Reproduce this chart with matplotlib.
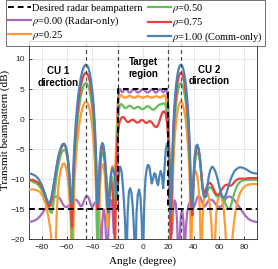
import numpy as np
import matplotlib
matplotlib.use("Agg")
import matplotlib.pyplot as plt

plt.rcParams['font.family'] = 'Liberation Serif'
plt.rcParams['mathtext.fontset'] = 'stix'

# angle grid (degree) shared by all curves
angles = np.arange(-90, 91)

# rho = 1.00 (comm-only)
beam_100 = [
    -9.1, -9.1, -9.1, -9.2, -9.3, -9.4, -9.6, -9.8, -10.1, -10.5,
    -10.9, -11.4, -12.0, -12.6, -13.3, -13.8, -14.0, -13.6, -12.7, -11.5,
    -10.3, -8.9, -7.6, -6.5, -5.6, -4.9, -4.3, -4.1, -4.1, -4.5,
    -5.3, -7.0, -9.4, -13.3, -14.0, -8.4, -3.9, -0.6, 1.95, 4.0,
    5.6, 6.9, 7.8, 8.5, 8.9, 9.05, 8.9, 8.5, 7.7, 6.5,
    4.9, 2.6, -0.7, -5.7, -14.1, -12.1, -6.85, -4.6, -3.95, -4.5,
    -6.2, -9.4, -14.3, -15.6, -11.6, -9.0, -8.1, -8.5, -10.1, -13.0,
    -11.5, -8.8, -7.9, -8.5, -10.5, -13.5, -17.5, -25.0, -15.5, -12.0,
    -11.5, -12.3, -14.5, -18.5, -25.0, -15.5, -12.5, -11.7, -12.8, -16.5,
    -25.0, -14.5, -10.0, -8.3, -7.6, -7.8, -9.2, -10.7, -10.0, -9.0,
    -9.2, -10.5, -11.0, -9.5, -8.6, -9.3, -11.5, -8.5, -5.2, -4.1,
    -4.6, -8.0, -16.0, -8.0, -1.25, 2.65, 5.25, 7.0, 8.2, 8.85,
    9.05, 8.85, 8.2, 7.15, 5.6, 3.35, 0.3, -4.3, -12.0, -14.5,
    -9.3, -5.9, -4.5, -4.25, -4.85, -6.35, -8.9, -11.5, -12.8, -13.0,
    -12.85, -11.0, -9.6, -8.6, -8.1, -7.9, -8.2, -8.6, -9.2, -10.0,
    -10.9, -11.8, -12.5, -13.0, -13.1, -12.8, -12.3, -11.6, -10.9, -10.2,
    -9.65, -9.2, -8.75, -8.5, -8.3, -8.15, -8.05, -8.0, -8.05, -8.1,
    -8.2, -8.3, -8.4, -8.55, -8.7, -8.8, -8.9, -8.95, -9.0, -9.05, -9.05,
]

# rho = 0.75
beam_075 = [
    -10.1, -10.1, -10.1, -10.1, -10.2, -10.3, -10.4, -10.5, -10.7, -10.9,
    -11.3, -11.7, -12.2, -12.8, -13.5, -14.1, -14.5, -14.4, -13.4, -11.9,
    -10.5, -9.1, -7.8, -6.7, -5.8, -5.1, -4.6, -4.3, -4.3, -4.6,
    -5.4, -7.0, -9.6, -13.5, -18.0, -10.0, -5.3, -2.0, 0.6, 2.65,
    4.25, 5.5, 6.45, 7.15, 7.55, 7.7, 7.55, 7.1, 6.35, 5.15,
    3.5, 1.25, -2.0, -7.0, -15.0, -13.5, -7.5, -5.2, -4.5, -5.0,
    -6.8, -9.5, -14.0, -14.5, -11.5, -10.5, -12.0, -16.0, -22.0, -9.0,
    -3.0, -1.0, -0.2, 0.2, 0.35, 0.3, 0.0, -0.35, -0.5, -0.45,
    -0.3, -0.15, -0.1, -0.2, -0.4, -0.55, -0.6, -0.45, -0.25, -0.15,
    -0.2, -0.4, -0.6, -0.65, -0.5, -0.35, -0.35, -0.55, -0.85, -1.15,
    -1.3, -1.3, -1.0, -0.4, 0.3, 0.9, 1.25, 1.3, 0.9, -0.5,
    -3.0, -8.0, -25.0, -9.5, -2.6, 1.3, 3.9, 5.65, 6.85, 7.5,
    7.7, 7.5, 6.85, 5.8, 4.25, 2.0, -1.05, -5.6, -13.5, -16.0,
    -10.0, -6.5, -5.0, -4.6, -5.0, -6.3, -8.6, -11.0, -12.5, -12.0,
    -11.5, -11.0, -10.7, -10.6, -10.8, -11.2, -11.7, -12.2, -12.5, -12.6,
    -12.5, -12.2, -11.8, -11.5, -11.2, -11.0, -10.9, -10.9, -11.0, -11.1,
    -11.0, -10.8, -10.5, -10.3, -10.1, -10.0, -9.9, -9.9, -9.9, -9.9,
    -9.9, -9.9, -9.85, -9.85, -9.8, -9.8, -9.8, -9.8, -9.8, -9.8, -9.8,
]

# rho = 0.50
beam_050 = [
    -10.3, -10.3, -10.3, -10.4, -10.5, -10.6, -10.7, -10.9, -11.1, -11.4,
    -11.7, -12.1, -12.6, -13.1, -13.7, -14.3, -14.9, -15.4, -15.6, -14.6,
    -12.8, -10.9, -9.2, -7.9, -6.9, -6.0, -5.5, -5.2, -5.1, -5.3,
    -6.0, -7.5, -10.0, -14.0, -20.0, -11.5, -7.0, -3.65, -1.1, 0.95,
    2.55, 3.85, 4.75, 5.45, 5.85, 6.0, 5.85, 5.45, 4.65, 3.45,
    1.85, -0.45, -3.75, -8.8, -22.0, -14.0, -9.0, -6.5, -5.5, -5.8,
    -7.5, -10.5, -14.5, -13.0, -10.5, -9.5, -10.0, -12.0, -14.0, -8.0,
    -1.0, 1.5, 2.4, 2.5, 2.3, 2.0, 1.8, 1.85, 2.05, 2.2,
    2.2, 2.05, 1.85, 1.75, 1.8, 1.95, 2.05, 2.0, 1.85, 1.7,
    1.65, 1.75, 1.95, 2.1, 2.15, 2.05, 1.85, 1.65, 1.55, 1.6,
    1.8, 2.05, 2.25, 2.4, 2.45, 2.5, 2.6, 2.6, 2.3, 1.0,
    -2.0, -7.0, -13.0, -11.0, -4.3, -0.4, 2.2, 3.95, 5.15, 5.8,
    6.0, 5.8, 5.15, 4.1, 2.55, 0.3, -2.75, -7.3, -14.0, -16.0,
    -11.0, -7.5, -6.0, -5.5, -5.8, -7.0, -9.0, -11.0, -12.3, -12.8,
    -12.5, -11.9, -11.5, -11.3, -11.4, -11.7, -12.1, -12.5, -12.8, -12.9,
    -12.8, -12.7, -12.8, -13.1, -13.5, -14.0, -14.5, -14.8, -14.9, -14.7,
    -14.0, -13.2, -12.4, -11.8, -11.3, -10.9, -10.6, -10.4, -10.3, -10.2,
    -10.2, -10.1, -10.1, -10.1, -10.1, -10.1, -10.1, -10.1, -10.1, -10.1, -10.1,
]

# rho = 0.25
beam_025 = [
    -11.7, -11.7, -11.7, -11.7, -11.7, -11.8, -11.8, -11.9, -12.0, -12.2,
    -12.5, -12.9, -13.4, -14.0, -14.8, -15.8, -17.0, -18.5, -20.5, -23.5,
    -30.0, -22.0, -15.5, -12.0, -9.9, -8.6, -7.8, -7.4, -7.4, -7.8,
    -8.8, -10.5, -13.0, -17.0, -24.0, -20.0, -10.0, -6.75, -4.2, -2.15,
    -0.55, 0.75, 1.65, 2.35, 2.75, 2.9, 2.75, 2.35, 1.55, 0.35,
    -1.25, -3.55, -6.85, -11.9, -20.0, -25.0, -12.0, -8.5, -7.5, -7.8,
    -9.5, -13.0, -18.0, -14.0, -10.5, -8.5, -7.8, -8.5, -9.0, -3.5,
    1.0, 3.3, 4.0, 4.0, 3.8, 3.6, 3.55, 3.6, 3.75, 3.85,
    3.85, 3.75, 3.6, 3.55, 3.6, 3.7, 3.8, 3.8, 3.7, 3.6,
    3.55, 3.6, 3.7, 3.8, 3.8, 3.7, 3.6, 3.55, 3.6, 3.7,
    3.8, 3.8, 3.7, 3.6, 3.6, 3.7, 3.9, 4.0, 3.6, 2.0,
    -1.0, -7.0, -14.0, -17.0, -7.4, -3.5, -0.9, 0.85, 2.05, 2.7,
    2.9, 2.7, 2.05, 1.0, -0.55, -2.8, -5.85, -10.5, -25.0, -14.0,
    -10.0, -8.7, -8.7, -9.5, -11.5, -15.0, -26.0, -17.0, -13.5, -12.3,
    -12.0, -12.2, -13.0, -14.5, -17.0, -21.0, -28.0, -20.0, -15.5, -13.5,
    -12.7, -12.5, -12.8, -13.8, -15.5, -18.0, -22.0, -27.0, -30.0, -28.0,
    -22.0, -19.0, -17.0, -15.5, -14.3, -13.4, -12.7, -12.2, -11.8, -11.5,
    -11.3, -11.1, -11.0, -10.9, -10.9, -10.8, -10.8, -10.8, -10.8, -10.8, -10.8,
]

# rho = 0.00 (radar-only)
beam_000 = [
    -17.1, -17.1, -17.0, -17.0, -16.9, -16.8, -16.7, -16.5, -16.3, -16.1,
    -15.8, -15.5, -15.2, -14.9, -14.6, -14.3, -14.0, -13.7, -13.4, -13.2,
    -13.0, -12.9, -12.9, -12.9, -13.1, -13.4, -13.8, -14.2, -14.5, -14.6,
    -14.6, -14.5, -14.3, -14.0, -13.7, -13.5, -13.4, -13.4, -13.5, -13.8,
    -14.2, -14.5, -14.4, -13.9, -13.3, -12.9, -12.8, -13.0, -13.6, -14.3,
    -14.7, -14.3, -13.9, -13.8, -14.3, -15.5, -18.0, -22.0, -17.0, -15.0,
    -16.0, -20.0, -24.0, -17.0, -14.0, -13.5, -15.0, -19.0, -14.0, -6.0,
    2.0, 4.5, 5.0, 4.6, 4.45, 4.7, 4.95, 4.95, 4.7, 4.45,
    4.4, 4.6, 4.85, 4.95, 4.8, 4.55, 4.4, 4.45, 4.65, 4.85,
    4.9, 4.85, 4.65, 4.45, 4.4, 4.55, 4.8, 4.95, 4.85, 4.6,
    4.4, 4.45, 4.7, 4.95, 4.95, 4.7, 4.45, 4.6, 5.0, 4.5,
    2.0, -6.0, -14.0, -19.0, -15.0, -13.5, -14.0, -17.0, -24.0, -20.0,
    -16.0, -15.0, -17.0, -22.0, -18.0, -15.5, -14.3, -13.8, -13.9, -14.3,
    -14.7, -14.3, -13.6, -13.0, -12.8, -12.9, -13.3, -13.9, -14.4, -14.5,
    -14.2, -13.8, -13.5, -13.4, -13.4, -13.5, -13.7, -14.0, -14.3, -14.5,
    -14.6, -14.6, -14.5, -14.2, -13.8, -13.4, -13.1, -12.9, -12.9, -12.9,
    -13.0, -13.2, -13.4, -13.7, -14.0, -14.3, -14.6, -14.9, -15.2, -15.5,
    -15.8, -16.1, -16.3, -16.5, -16.7, -16.8, -16.9, -17.0, -17.0, -17.1, -17.1,
]

# desired radar beampattern
desired_x = [-90, -20, -20, 20, 20, 90]
desired_y = [-15, -15, 5, 5, -15, -15]

cu_angles = [-45, 30]
target_edges = [-20, 20]

series = [
    (beam_000, '#a66cc2', r'$\rho$=0.00 (Radar-only)'),
    (beam_025, '#ff9b37', r'$\rho$=0.25'),
    (beam_050, '#66bd5b', r'$\rho$=0.50'),
    (beam_075, '#e8403d', r'$\rho$=0.75'),
    (beam_100, '#4b83b5', r'$\rho$=1.00 (Comm-only)'),
]

fig = plt.figure(figsize=(2.78, 2.69), dpi=100)
ax = fig.add_axes([0.104, 0.110, 0.820, 0.738])

for a in cu_angles + target_edges:
    ax.axvline(a, color='#444444', lw=0.9, ls=(0, (3, 2.5)), zorder=4)

handles = []
for vals, col, lab in series:
    if len(vals) != len(angles):
        raise ValueError(lab + ' has %d values' % len(vals))
    h, = ax.plot(angles, vals, color=col, lw=1.6, label=lab, zorder=3)
    handles.append(h)

hd, = ax.plot(desired_x, desired_y, color='black', lw=1.4, ls=(0, (3, 2)),
              label='Desired radar beampattern', zorder=5)

ax.text(-67, 7.0, 'CU 1\ndirection', ha='center', va='center', family='Liberation Sans',
        fontweight='bold', fontsize=7, linespacing=1.15, zorder=6)
ax.text(0.5, 8.5, 'Target\nregion', ha='center', va='center', family='Liberation Sans',
        fontweight='bold', fontsize=7, linespacing=1.15, zorder=6)
ax.text(52.5, 7.2, 'CU 2\ndirection', ha='center', va='center', family='Liberation Sans',
        fontweight='bold', fontsize=7, linespacing=1.15, zorder=6)

ax.set_xlim(-90, 90)
ax.set_ylim(-20, 13)
ax.set_xticks(range(-80, 81, 20))
ax.set_yticks(range(-20, 11, 5))
ax.grid(True, color='#e3e3e3', lw=0.6)
ax.set_axisbelow(True)
ax.tick_params(direction='in', length=2, width=0.6, labelsize=6, colors='#262626', pad=3)
for lbl in ax.get_xticklabels() + ax.get_yticklabels():
    lbl.set_family('Liberation Sans')
for sp in ax.spines.values():
    sp.set_color('#262626')
    sp.set_linewidth(0.6)

ax.set_xlabel('Angle (degree)', fontsize=8)
ax.set_ylabel('Transmit beampattern (dB)', fontsize=8)
ax.xaxis.set_label_coords(0.5, -0.085)
ax.yaxis.set_label_coords(-0.085, 0.55)

order = [hd, handles[0], handles[1], handles[2], handles[3], handles[4]]
leg = fig.legend(order, [h.get_label() for h in order], ncol=2, loc='upper left',
                 bbox_to_anchor=(0.022, 1.0), fontsize=7.5, frameon=True, fancybox=False,
                 edgecolor='#333333', handlelength=2.2, handletextpad=0.12,
                 columnspacing=0.5, labelspacing=0.12, borderpad=0.2, borderaxespad=0.0)
leg.get_frame().set_linewidth(0.6)

fig.savefig('out.png', dpi=100)
